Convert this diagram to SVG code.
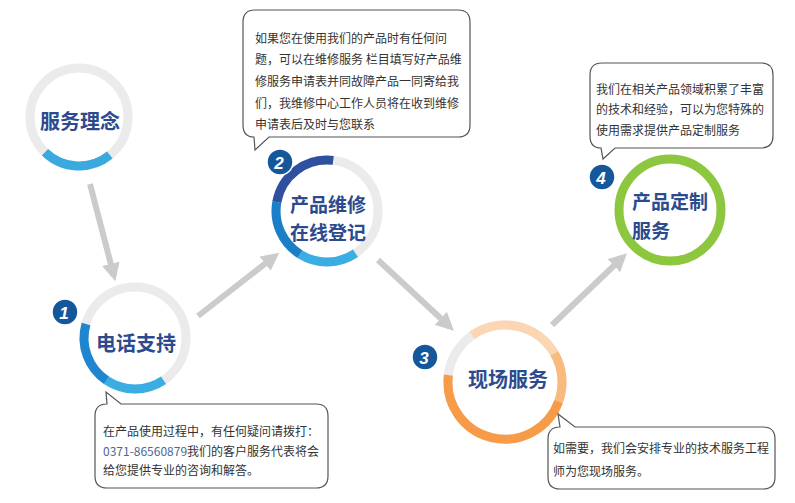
<svg xmlns="http://www.w3.org/2000/svg" width="795" height="503" viewBox="0 0 795 503">
<style>
.ring{fill:none;stroke:#ebebeb;stroke-width:9}
.arc{fill:none;stroke-width:9}
.nt{font-family:"Noto Sans CJK SC","Noto Sans",sans-serif;font-size:20px;font-weight:bold;fill:#2c4a8e;dominant-baseline:central}
.nt2{font-size:19px}
.bt{font-family:"Noto Sans CJK SC","Noto Sans",sans-serif;font-size:12px;fill:#333;dominant-baseline:central}
.bub{fill:#fff;stroke:#555;stroke-width:1.2}
.badge{fill:#15579b;stroke:#fff;stroke-width:1.5}
.bn{font-family:"Liberation Sans",Arial,sans-serif;font-size:17px;font-weight:bold;font-style:italic;fill:#fff;text-anchor:middle;dominant-baseline:central}
.conn{fill:none;stroke:#cbcbcb;stroke-width:6;marker-end:url(#ah)}
</style>
<defs>
<marker id="ah" viewBox="0 0 10 10" refX="7" refY="5" markerWidth="3" markerHeight="3" orient="auto" markerUnits="strokeWidth">
<path d="M0,0 L10,5 L0,10 z" fill="#cbcbcb"/>
</marker>
</defs>
<rect width="795" height="503" fill="#fff"/>

<g id="connectors">
<line class="conn" x1="90" y1="184" x2="114" y2="276"/>
<line class="conn" x1="198" y1="316" x2="275" y2="256"/>
<line class="conn" x1="378" y1="260" x2="450" y2="327"/>
<line class="conn" x1="552" y1="325" x2="623" y2="257"/>
</g>

<g id="node-linian">
<circle class="ring" cx="79" cy="117" r="49" stroke-width="8"/>
<path class="arc" stroke="#3aa9de" stroke-width="8" d="M109.8,155.1 A49,49 0 0,1 45.0,152.2"/>
<text class="nt" x="80" y="120" text-anchor="middle">服务理念</text>
</g>

<g id="node-dianhua">
<circle class="ring" cx="135" cy="338" r="51"/>
<path class="arc" stroke="#3aaee2" d="M163.5,380.3 A51,51 0 0,1 106.5,380.3"/>
<path class="arc" stroke="#1e86cf" d="M106.5,380.3 A51,51 0 0,1 86.0,323.9"/>
<text class="nt" x="136" y="342" text-anchor="middle">电话支持</text>
<circle class="badge" cx="65" cy="312" r="13"/>
<text class="bn" x="64" y="313">1</text>
</g>

<g id="node-weixiu">
<circle class="ring" cx="327" cy="211" r="51"/>
<path class="arc" stroke="#3aaee2" d="M355.5,253.3 A51,51 0 0,1 300.0,254.2"/>
<path class="arc" stroke="#1a7fc6" d="M300.0,254.2 A51,51 0 0,1 276.8,202.1"/>
<path class="arc" stroke="#2f4f9f" d="M276.8,202.1 A51,51 0 0,1 333.2,160.4"/>
<text class="nt nt2" x="328" y="203" text-anchor="middle">产品维修</text>
<text class="nt nt2" x="328" y="231" text-anchor="middle">在线登记</text>
<circle class="badge" cx="280" cy="162" r="13"/>
<text class="bn" x="279" y="163">2</text>
</g>

<g id="node-xianchang">
<circle class="ring" cx="505" cy="382" r="57" stroke="#f2f2f2"/>
<path class="arc" stroke="#fcd5b2" d="M472.3,335.3 A57,57 0 0,1 554.4,353.5"/>
<path class="arc" stroke="#f9ba7e" d="M554.4,353.5 A57,57 0 0,1 558.6,401.5"/>
<path class="arc" stroke="#f79b48" d="M558.6,401.5 A57,57 0 0,1 448.4,375.1"/>
<text class="nt" x="508" y="378" text-anchor="middle">现场服务</text>
<circle class="badge" cx="425" cy="357" r="13"/>
<text class="bn" x="424" y="358">3</text>
</g>

<g id="node-dingzhi">
<circle class="arc" cx="670" cy="210" r="51" stroke="#8dc63f"/>
<text class="nt nt2" x="632" y="200">产品定制</text>
<text class="nt nt2" x="632" y="229">服务</text>
<circle class="badge" cx="602" cy="177" r="13"/>
<text class="bn" x="601" y="178">4</text>
</g>

<g id="bubble-weixiu">
<path class="bub" d="M255,10 H458 Q470,10 470,22 V125 Q470,137 458,137 H269 L255,150 L254,137 Q243,137 243,125 V22 Q243,10 255,10 Z"/>
<text class="bt" x="255" y="37">如果您在使用我们的产品时有任何问</text>
<text class="bt" x="255" y="58">题，可以在维修服务 栏目填写好产品维</text>
<text class="bt" x="255" y="80">修服务申请表并同故障产品一同寄给我</text>
<text class="bt" x="255" y="102">们，我维修中心工作人员将在收到维修</text>
<text class="bt" x="255" y="123">申请表后及时与您联系</text>
</g>

<g id="bubble-dingzhi">
<path class="bub" d="M602,63 H761 Q773,63 773,75 V136 Q773,148 761,148 H615 L603,159 L601,148 Q590,148 590,136 V75 Q590,63 602,63 Z"/>
<text class="bt" x="596" y="88">我们在相关产品领域积累了丰富</text>
<text class="bt" x="596" y="108">的技术和经验，可以为您特殊的</text>
<text class="bt" x="596" y="129">使用需求提供产品定制服务</text>
</g>

<g id="bubble-dianhua">
<path class="bub" d="M107,404 L106,392 L121,404 H316 Q328,404 328,416 V476 Q328,488 316,488 H107 Q95,488 95,476 V416 Q95,404 107,404 Z"/>
<text class="bt" x="103" y="430">在产品使用过程中，有任何疑问请拨打：</text>
<text class="bt" x="103" y="450"><tspan fill="#4d6794">0371-86560879</tspan>我们的客户服务代表将会</text>
<text class="bt" x="103" y="469">给您提供专业的咨询和解答。</text>
</g>

<g id="bubble-xianchang">
<path class="bub" d="M560,427 L558,414 L575,427 H763 Q775,427 775,439 V477 Q775,489 763,489 H560 Q548,489 548,477 V439 Q548,427 560,427 Z"/>
<text class="bt" x="553" y="447">如需要，我们会安排专业的技术服务工程</text>
<text class="bt" x="553" y="470">师为您现场服务。</text>
</g>
</svg>
